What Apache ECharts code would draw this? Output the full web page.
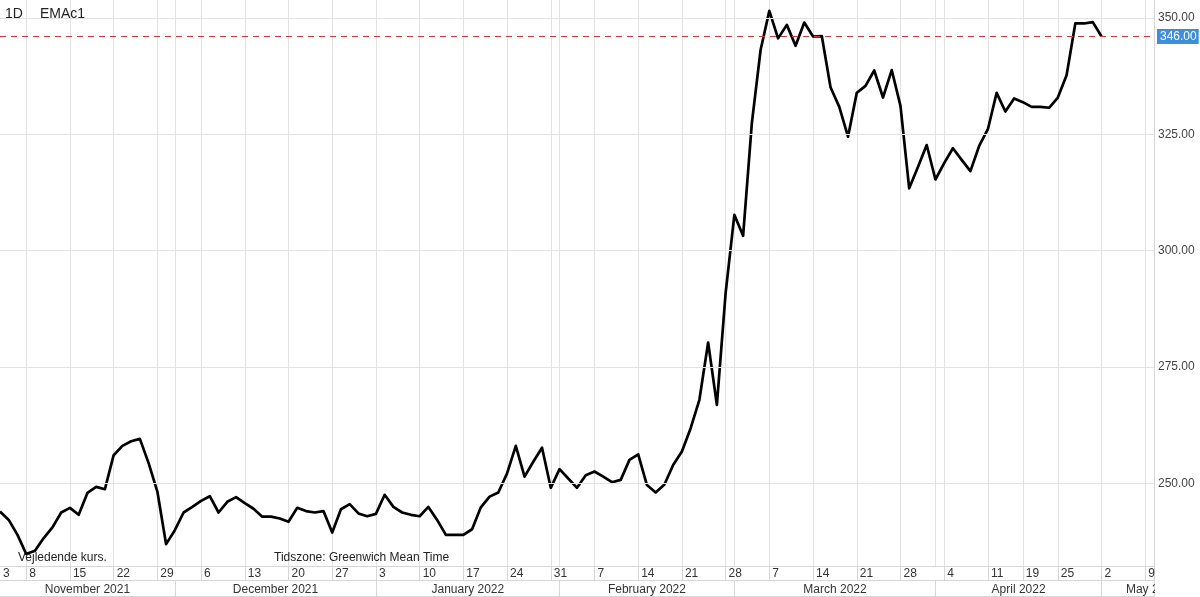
<!DOCTYPE html>
<html>
<head>
<meta charset="utf-8">
<script src="https://cdn.jsdelivr.net/npm/echarts@6/dist/echarts.min.js"></script>
<style>
html,body{margin:0;padding:0;background:#fff;}
#chart{width:1200px;height:597px;}
</style>
</head>
<body>
<div id="chart"></div>
<script>
// ---- trading days (Euronext calendar), by month ----
const nov21 = [3,4,5,8,9,10,11,12,15,16,17,18,19,22,23,24,25,26,29,30];
const dec21 = [1,2,3,6,7,8,9,10,13,14,15,16,17,20,21,22,23,24,27,28,29,30,31];
const jan22 = [3,4,5,6,7,10,11,12,13,14,17,18,19,20,21,24,25,26,27,28,31];
const feb22 = [1,2,3,4,7,8,9,10,11,14,15,16,17,18,21,22,23,24,25,28];
const mar22 = [1,2,3,4,7,8,9,10,11,14,15,16,17,18,21,22,23,24,25,28,29,30,31];
const apr22 = [1,4,5,6,7,8,11,12,13,14,19,20,21,22,25,26,27,28,29];
const may22 = [2,3,4,5,6,9,10];
const monthNames = ['November 2021','December 2021','January 2022','February 2022','March 2022','April 2022','May 2022'];

// ---- EMAc1 daily close ----
const pricesNov = [244.0,242.2,239.0,234.9,235.6,238.3,240.6,243.8,244.8,243.3,248.0,249.3,248.8,256.1,258.1,259.1,259.6,254.4,248.3,237.0];
const pricesDec = [240.0,243.8,245.0,246.3,247.3,243.8,246.1,247.1,245.8,244.6,242.9,242.9,242.5,241.8,244.8,244.1,243.8,244.1,239.5,244.5,245.6,243.6,243.0];
const pricesJan = [243.5,247.6,245.0,243.8,243.3,243.0,245.0,242.2,239.0,239.0,239.0,240.2,244.9,247.2,248.1,252.2,258.1,251.5,254.7,257.7,249.1];
const pricesFeb = [253.1,251.1,249.1,251.8,252.6,251.5,250.3,250.8,255.1,256.3,249.7,248.1,249.8,254.0,256.9,261.9,268.0,280.3,266.9,290.9];
const pricesMar = [307.7,303.2,327.4,343.1,351.5,345.6,348.5,344.0,349.0,346.0,346.1,335.1,330.9,324.5,333.9,335.4,338.7,332.9,338.8,331.1,313.4,318.0,322.7];
const pricesApr = [315.3,318.8,322.0,319.5,317.1,322.5,326.1,333.9,329.9,332.7,331.9,330.9,330.9,330.7,332.9,337.7,348.8,348.8,349.1];
const pricesMay = [346.0];

const yTicks = [250,275,300,325,350];

// ---- build categories ----
const monthSpecs = [[2021,11,nov21],[2021,12,dec21],[2022,1,jan22],[2022,2,feb22],[2022,3,mar22],[2022,4,apr22],[2022,5,may22]];
const dates = [];
const monthStartIdx = [];
monthSpecs.forEach(function(ms){
  monthStartIdx.push(dates.length);
  ms[2].forEach(function(d){
    dates.push(ms[0] + '-' + String(ms[1]).padStart(2,'0') + '-' + String(d).padStart(2,'0'));
  });
});
const prices = [].concat(pricesNov,pricesDec,pricesJan,pricesFeb,pricesMar,pricesApr,pricesMay);
const lastIdx = dates.length - 1;
const latest = prices[prices.length - 1];

function dow(s){ return new Date(s + 'T00:00:00Z').getUTCDay(); }
const weekStart = new Set();
for (let i = 1; i < dates.length; i++) {
  if (dow(dates[i]) <= dow(dates[i-1])) weekStart.add(i);
}
const monthStart = new Set(monthStartIdx.slice(1));

// month label positions: centre of each month span (last month is cut at the right edge)
const monthLabel = {};
monthStartIdx.forEach(function(s, k){
  if (k + 1 < monthStartIdx.length) {
    const e = monthStartIdx[k+1];
    const c = (s + e) / 2;
    const f = Math.floor(c);
    monthLabel[f] = { name: monthNames[k], style: (c !== f) ? 'h' : null };
  } else {
    monthLabel[lastIdx - 1] = { name: monthNames[k], style: 'm' };
  }
});

const FONT = '"Liberation Sans", Arial, Helvetica, sans-serif';
const GRID = '#e2e2e2';
const AXIS = '#d6d6d6';

const chart = echarts.init(document.getElementById('chart'), null, {renderer:'canvas'});
chart.setOption({
  animation: false,
  textStyle: { fontFamily: FONT },
  grid: { left: 0, right: 46, top: 0, bottom: 31, containLabel: false },
  xAxis: [
    {
      type: 'category', data: dates, boundaryGap: false,
      axisLine: { show: true, lineStyle: { color: AXIS, width: 1 } },
      axisTick: { show: true, length: 14, interval: function(i){ return weekStart.has(i) || i === lastIdx; }, lineStyle: { color: AXIS } },
      splitLine: { show: true, interval: function(i){ return weekStart.has(i) || monthStart.has(i); }, lineStyle: { color: GRID, width: 1 } },
      axisLabel: {
        interval: function(i){ return i === 0 || weekStart.has(i); },
        formatter: function(v){ return String(parseInt(v.slice(8), 10)); },
        align: 'left', padding: [0,0,0,3], margin: 2,
        color: '#333', fontSize: 12, fontFamily: FONT
      }
    },
    {
      type: 'category', data: dates, boundaryGap: false, position: 'bottom', offset: 14,
      axisLine: { show: true, lineStyle: { color: AXIS, width: 1 } },
      axisTick: { show: true, length: 17, interval: function(i){ return monthStart.has(i) || i === lastIdx; }, lineStyle: { color: AXIS } },
      splitLine: { show: false },
      axisLabel: {
        interval: function(i){ return monthLabel.hasOwnProperty(i); },
        formatter: function(v, i){ const m = monthLabel[i]; if (!m) return ''; return m.style ? '{' + m.style + '|' + m.name + '}' : m.name; },
        margin: 4, color: '#333', fontSize: 12, fontFamily: FONT,
        rich: {
          h: { padding: [0,0,0,9], color: '#333', fontSize: 12, fontFamily: FONT },
          m: { padding: [0,0,0,14], color: '#333', fontSize: 12, fontFamily: FONT }
        }
      }
    },
    {
      type: 'category', data: dates, boundaryGap: false, position: 'bottom', offset: 30,
      axisLine: { show: true, lineStyle: { color: AXIS, width: 1 } },
      axisTick: { show: false }, axisLabel: { show: false }, splitLine: { show: false }
    }
  ],
  yAxis: {
    type: 'value', position: 'right', min: 232.31, max: 353.84, scale: true,
    axisLine: { show: true, lineStyle: { color: AXIS } },
    axisTick: { show: false }, axisLabel: { show: false }, splitLine: { show: false }
  },
  series: [
    {
      name: 'gridlines', type: 'line', data: prices, z: 1, silent: true,
      showSymbol: false, lineStyle: { opacity: 0 }, tooltip: { show: false },
      markLine: {
        silent: true, symbol: ['none','none'], animation: false,
        data: yTicks.map(function(t){
          return {
            yAxis: t,
            lineStyle: { color: GRID, type: 'solid', width: 1 },
            label: { show: true, position: 'end', distance: 4, formatter: t.toFixed(2), color: '#444', fontSize: 12, fontFamily: FONT }
          };
        }).concat([{
          yAxis: latest,
          lineStyle: { color: '#cc3b3b', type: [6,5], width: 1 },
          label: { show: true, position: 'end', distance: 3, formatter: latest.toFixed(2), color: '#fff',
                   backgroundColor: '#3d8fd8', padding: [2,2,1,3], fontSize: 12, fontFamily: FONT }
        }])
      }
    },
    {
      name: 'EMAc1', type: 'line', data: prices, z: 3,
      showSymbol: false, symbol: 'none', smooth: false,
      lineStyle: { color: '#000', width: 2.7, join: 'round' }
    }
  ],
  graphic: [
    { type: 'text', left: 5, top: 7, z: 10, style: { text: '1D', fill: '#222', font: '14px ' + FONT } },
    { type: 'text', left: 40, top: 7, z: 10, style: { text: 'EMAc1', fill: '#222', font: '14px ' + FONT } },
    { type: 'text', left: 18, top: 552, z: 10, style: { text: 'Vejledende kurs.', fill: '#222', font: '12px ' + FONT } },
    { type: 'text', left: 274, top: 552, z: 10, style: { text: 'Tidszone: Greenwich Mean Time', fill: '#222', font: '12px ' + FONT } },
    { type: 'rect', left: 1155, top: 567, z: 100, shape: { width: 45, height: 30 }, style: { fill: '#fff' } }
  ]
});
</script>
</body>
</html>
